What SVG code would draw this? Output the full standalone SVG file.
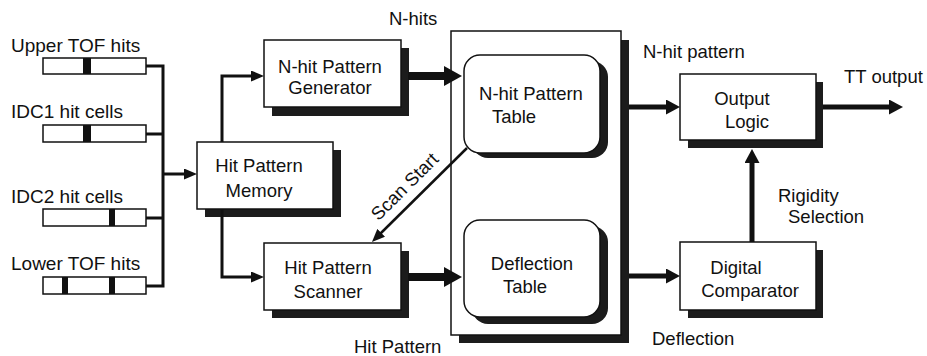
<svg xmlns="http://www.w3.org/2000/svg" width="927" height="356" viewBox="0 0 927 356">
<style>
text{font-family:"Liberation Sans",Arial,sans-serif;font-size:18.5px;fill:#111}
.lbl{font-size:19px}
.box{fill:#fff;stroke:#111;stroke-width:1.5}
.sh{fill:#1c1c1c}
.bar{fill:#fff;stroke:#111;stroke-width:1.5}
.mk{fill:#111}
.c{fill:none;stroke:#111;stroke-linejoin:miter}
.thin{stroke-width:3}
.med{stroke-width:5}
.thick{stroke-width:8}
</style>
<defs>
<marker id="aThin" markerUnits="userSpaceOnUse" markerWidth="13" markerHeight="11" refX="1" refY="5.5" orient="auto"><path d="M0,0 L13,5.5 L0,11 z" fill="#111"/></marker>
<marker id="aMed" markerUnits="userSpaceOnUse" markerWidth="14" markerHeight="15" refX="1" refY="7.5" orient="auto"><path d="M0,0 L14,7.5 L0,15 z" fill="#111"/></marker>
<marker id="aThick" markerUnits="userSpaceOnUse" markerWidth="18" markerHeight="20" refX="1" refY="10" orient="auto"><path d="M0,0 L18,10 L0,20 z" fill="#111"/></marker>
</defs>
<rect width="927" height="356" fill="#fff"/>

<g id="upper-tof">
<text class="lbl" x="11" y="52">Upper TOF hits</text>
<rect class="bar" x="43" y="58" width="103" height="16"/>
<rect class="mk" x="83" y="58" width="8" height="16"/>
</g>
<g id="idc1">
<text class="lbl" x="11" y="118">IDC1 hit cells</text>
<rect class="bar" x="43" y="125" width="103" height="17"/>
<rect class="mk" x="83" y="125" width="8" height="17"/>
</g>
<g id="idc2">
<text class="lbl" x="11" y="203">IDC2 hit cells</text>
<rect class="bar" x="43" y="209" width="103" height="17"/>
<rect class="mk" x="109" y="209" width="6" height="17"/>
</g>
<g id="lower-tof">
<text class="lbl" x="11" y="270">Lower TOF hits</text>
<rect class="bar" x="43" y="277" width="103" height="17"/>
<rect class="mk" x="62" y="277" width="6" height="17"/>
<rect class="mk" x="109" y="277" width="6" height="17"/>
</g>

<g id="hit-pattern-memory">
<rect class="sh" x="205" y="150" width="136" height="67"/>
<rect class="box" x="197" y="142" width="136" height="67"/>
<text x="259" y="172" text-anchor="middle">Hit Pattern</text>
<text x="259" y="197" text-anchor="middle">Memory</text>
</g>

<g id="nhit-generator">
<rect class="sh" x="272" y="48" width="137" height="68"/>
<rect class="box" x="264" y="40" width="137" height="67"/>
<text x="330" y="73" text-anchor="middle">N-hit Pattern</text>
<text x="330" y="94" text-anchor="middle">Generator</text>
</g>

<g id="hit-pattern-scanner">
<rect class="sh" x="272" y="251" width="137" height="67"/>
<rect class="box" x="264" y="243" width="137" height="67"/>
<text x="328" y="274" text-anchor="middle">Hit Pattern</text>
<text x="328" y="298" text-anchor="middle">Scanner</text>
</g>

<g id="table-unit">
<rect class="sh" x="459" y="40" width="170" height="303"/>
<rect class="box" x="451" y="31" width="170" height="304"/>
</g>

<g id="nhit-table">
<rect class="sh" x="472" y="61" width="136" height="97" rx="16"/>
<rect class="box" x="464" y="55" width="136" height="98" rx="16"/>
<text x="531" y="100" text-anchor="middle">N-hit Pattern</text>
<text x="514" y="123" text-anchor="middle">Table</text>
</g>

<g id="deflection-table">
<rect class="sh" x="472" y="226" width="136" height="98" rx="16"/>
<rect class="box" x="464" y="220" width="136" height="97" rx="16"/>
<text x="532" y="270" text-anchor="middle">Deflection</text>
<text x="525" y="293" text-anchor="middle">Table</text>
</g>

<g id="output-logic">
<rect class="sh" x="688" y="82" width="135" height="66"/>
<rect class="box" x="680" y="74" width="136" height="66"/>
<text x="742" y="105" text-anchor="middle">Output</text>
<text x="747" y="128" text-anchor="middle">Logic</text>
</g>

<g id="digital-comparator">
<rect class="sh" x="688" y="250" width="135" height="68"/>
<rect class="box" x="680" y="242" width="136" height="68"/>
<text x="736" y="274" text-anchor="middle">Digital</text>
<text x="750" y="297" text-anchor="middle">Comparator</text>
</g>

<g id="connectors">
<path class="c thin" d="M146,66 H163 V286 H146 M146,134 H163 M146,218 H163"/>
<path class="c thin" d="M163,174 H185" marker-end="url(#aThin)"/>
<path class="c thin" d="M222,142 V76 H252" marker-end="url(#aThin)"/>
<path class="c thin" d="M222,209 V277 H252" marker-end="url(#aThin)"/>
<path class="c thick" d="M408,76 H445" marker-end="url(#aThick)"/>
<path class="c thick" d="M408,277 H445" marker-end="url(#aThick)"/>
<path class="c med" d="M629,107 H667" marker-end="url(#aMed)"/>
<path class="c med" d="M629,276 H667" marker-end="url(#aMed)"/>
<path class="c med" d="M823,107 H890" marker-end="url(#aMed)"/>
<path class="c med" d="M752,242 V162" marker-end="url(#aMed)"/>
<path class="c" stroke-width="2.5" d="M467,148 L380.5,233.5" marker-end="url(#aThin)"/>
</g>

<g id="labels">
<text x="389" y="25">N-hits</text>
<text x="409" y="191" text-anchor="middle" transform="rotate(-45 409 191)">Scan Start</text>
<text x="354" y="353">Hit Pattern</text>
<text x="643" y="58">N-hit pattern</text>
<text x="844" y="83">TT output</text>
<text x="778" y="202">Rigidity</text>
<text x="788" y="223">Selection</text>
<text x="652" y="345">Deflection</text>
</g>
</svg>
